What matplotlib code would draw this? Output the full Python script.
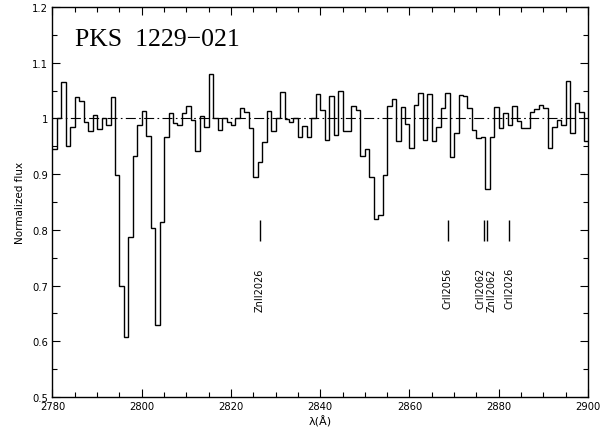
import numpy as np
import matplotlib
matplotlib.use("Agg")
import matplotlib.pyplot as plt
from matplotlib.ticker import MultipleLocator

# ---- data -------------------------------------------------------------
wave_start = 2780.0          # first bin edge (Angstrom)
bin_width = 1.0              # pixel size (Angstrom)
flux = [
    0.945, 1.000, 1.065, 0.950, 0.984, 1.039, 1.031, 0.994, 0.978, 1.006,   # 2780-2789
    0.981, 1.001, 0.989, 1.038, 0.898, 0.699, 0.607, 0.788, 0.932, 0.989,   # 2790-2799
    1.014, 0.968, 0.804, 0.630, 0.814, 0.966, 1.010, 0.992, 0.989, 1.010,   # 2800-2809
    1.022, 0.998, 0.942, 1.004, 0.984, 1.080, 1.000, 0.979, 1.000, 0.994,   # 2810-2819
    0.989, 1.000, 1.019, 1.011, 0.982, 0.894, 0.922, 0.958, 1.014, 0.977,   # 2820-2829
    1.001, 1.047, 0.999, 0.993, 1.001, 0.966, 0.986, 0.966, 1.001, 1.044,   # 2830-2839
    1.015, 0.962, 1.040, 0.971, 1.049, 0.978, 0.978, 1.022, 1.016, 0.932,   # 2840-2849
    0.946, 0.895, 0.819, 0.826, 0.898, 1.023, 1.035, 0.959, 1.020, 0.990,   # 2850-2859
    0.947, 1.025, 1.045, 0.961, 1.044, 0.960, 0.984, 1.018, 1.045, 0.931,   # 2860-2869
    0.973, 1.042, 1.041, 1.019, 0.980, 0.964, 0.966, 0.874, 0.966, 1.020,   # 2870-2879
    0.983, 1.010, 0.988, 1.023, 0.995, 0.982, 0.982, 1.012, 1.017, 1.024,   # 2880-2889
    1.018, 0.947, 0.985, 0.998, 0.989, 1.067, 0.973, 1.028, 1.012, 0.959,   # 2890-2899
]
edges = wave_start + bin_width * np.arange(len(flux) + 1)

line_waves = [2826.5, 2868.6, 2876.8, 2877.4, 2882.4]
line_labels = ["ZnII2026", "CrII2056", "CrII2062", "ZnII2062", "CrII2026"]

title = "PKS  1229\u2212021"
xlim = (2780, 2900)
ylim = (0.5, 1.2)

# ---- figure -----------------------------------------------------------
fig = plt.figure(figsize=(6.02, 4.35), dpi=100)
ax = fig.add_axes([0.0872, 0.085, 0.8895, 0.8966])

ax.stairs(flux, edges, baseline=None, color="black", lw=1.0)
ax.axhline(1.0, color="black", lw=0.8, linestyle=(0, (9, 3, 1.5, 3)))

# line markers and labels
ax.vlines(line_waves, 0.780, 0.817, color="black", lw=1.0)
label_shift = [0.0, 0.0, -0.9, 1.1, 0.0]
for w, lab, dx in zip(line_waves, line_labels, label_shift):
    ax.text(w + dx, 0.733, lab, rotation=90, ha="center", va="top",
            fontsize=7.0, family="DejaVu Sans")

ax.text(2785.0, 1.131, title, family="Liberation Serif", fontsize=18.5,
        ha="left", va="baseline")

ax.set_xlim(*xlim)
ax.set_ylim(*ylim)
ax.xaxis.set_major_locator(MultipleLocator(20))
ax.xaxis.set_minor_locator(MultipleLocator(5))
ax.yaxis.set_major_locator(MultipleLocator(0.1))
ax.yaxis.set_minor_locator(MultipleLocator(0.05))
ax.yaxis.set_major_formatter(plt.FuncFormatter(lambda v, p: ("%g" % round(v, 2))))
ax.tick_params(which="both", direction="in", top=True, right=True,
               labelsize=7.2, width=0.8)
ax.tick_params(which="major", length=6, pad=3)
ax.tick_params(which="minor", length=3.5)
for s in ax.spines.values():
    s.set_linewidth(1.0)

ax.set_xlabel("\u03bb(\u00c5)", fontsize=8, labelpad=3)
ax.set_ylabel("Normalized flux", fontsize=7.5, labelpad=5)

fig.savefig("out.png", dpi=100)
